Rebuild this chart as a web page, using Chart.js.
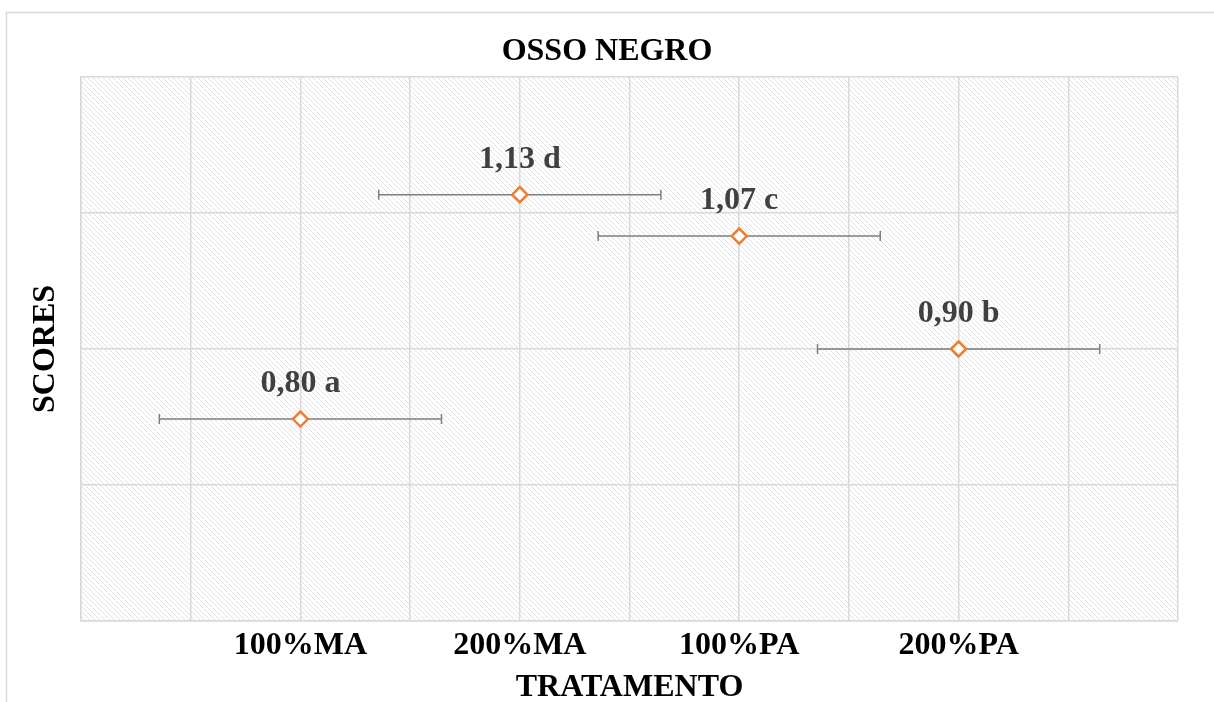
<!DOCTYPE html>
<html lang="pt">
<head>
    <meta charset="UTF-8">
    <title>Osso Negro</title>
    <script src="https://cdn.jsdelivr.net/npm/chart.js"></script>
    <style>
        body { margin: 0; background: #ffffff; }
        .chart-container { position: relative; width: 1214px; height: 702px; }
    </style>
</head>
<body>
    <div class="chart-container">
        <canvas id="scoreChart" width="1214" height="702"></canvas>
    </div>
    <script>
        // Data
        const categories = ['100%MA', '200%MA', '100%PA', '200%PA'];
        const xPositions = [1, 2, 3, 4];
        const scores = [0.797, 1.127, 1.066, 0.90];
        const errors = [0.643, 0.643, 0.643, 0.643];
        const pointLabels = ['0,80 a', '1,13 d', '1,07 c', '0,90 b'];

        const serif = "'Liberation Serif', 'DejaVu Serif', serif";
        const gridColor = '#d9d9d9';

        // diagonal hatch for the plot area
        function makeHatch() {
            const c = document.createElement('canvas');
            c.width = 5; c.height = 5;
            const g = c.getContext('2d');
            g.strokeStyle = '#e2e2e2';
            g.lineWidth = 1;
            g.beginPath();
            g.moveTo(-1, -1); g.lineTo(6, 6);
            g.moveTo(-1, 4); g.lineTo(1, 6);
            g.moveTo(4, -1); g.lineTo(6, 1);
            g.stroke();
            return c;
        }

        const backdrop = {
            id: 'backdrop',
            beforeDraw(chart) {
                const ctx = chart.ctx;
                const a = chart.chartArea;
                ctx.save();
                ctx.strokeStyle = gridColor;
                ctx.lineWidth = 1.5;
                ctx.strokeRect(6.5, 12.5, 1400, 1000);
                ctx.fillStyle = ctx.createPattern(makeHatch(), 'repeat');
                ctx.fillRect(a.left, a.top, a.right - a.left, a.bottom - a.top);
                ctx.restore();
            }
        };

        // horizontal error bars and value labels
        const errorBars = {
            id: 'errorBars',
            beforeDatasetsDraw(chart) {
                const ctx = chart.ctx;
                const xs = chart.scales.x, ys = chart.scales.y;
                ctx.save();
                ctx.strokeStyle = '#7f7f7f';
                ctx.lineWidth = 1.5;
                xPositions.forEach((x, i) => {
                    const y = ys.getPixelForValue(scores[i]);
                    const x0 = xs.getPixelForValue(x - errors[i]);
                    const x1 = xs.getPixelForValue(x + errors[i]);
                    ctx.beginPath();
                    ctx.moveTo(x0, y); ctx.lineTo(x1, y);
                    ctx.moveTo(x0, y - 5); ctx.lineTo(x0, y + 5);
                    ctx.moveTo(x1, y - 5); ctx.lineTo(x1, y + 5);
                    ctx.stroke();
                });
                ctx.restore();
            },
            afterDatasetsDraw(chart) {
                const ctx = chart.ctx;
                const xs = chart.scales.x, ys = chart.scales.y;
                ctx.save();
                ctx.fillStyle = '#404040';
                ctx.font = 'bold 32px ' + serif;
                ctx.textAlign = 'center';
                ctx.textBaseline = 'middle';
                xPositions.forEach((x, i) => {
                    ctx.fillText(pointLabels[i], xs.getPixelForValue(x), ys.getPixelForValue(scores[i]) - 35);
                });
                ctx.restore();
            }
        };

        new Chart(document.getElementById('scoreChart'), {
            type: 'scatter',
            data: {
                datasets: [{
                    label: 'Scores',
                    data: xPositions.map((x, i) => ({ x: x, y: scores[i] })),
                    pointStyle: 'rectRot',
                    pointRadius: 7.5,
                    pointBorderWidth: 2.5,
                    borderColor: '#ed7d31',
                    backgroundColor: '#ffffff',
                    pointHoverRadius: 7.5
                }]
            },
            options: {
                responsive: false,
                animation: false,
                layout: { padding: 0 },
                plugins: {
                    legend: { display: false },
                    tooltip: { enabled: false },
                    title: {
                        display: true,
                        text: 'OSSO NEGRO',
                        color: '#000000',
                        font: { family: serif, size: 32, weight: 'bold' },
                        padding: { top: 33, bottom: 5.6 }
                    }
                },
                scales: {
                    x: {
                        type: 'linear',
                        min: 0,
                        max: 5,
                        afterFit(scale) { scale.height = 81; },
                        ticks: {
                            stepSize: 0.5,
                            autoSkip: false,
                            maxRotation: 0,
                            color: '#000000',
                            padding: 6,
                            font: { family: serif, size: 32, weight: 'bold' },
                            callback: (v) => {
                                const i = xPositions.indexOf(v);
                                return i >= 0 ? categories[i] : '';
                            }
                        },
                        grid: { color: gridColor, lineWidth: 1.5, drawTicks: false },
                        border: { color: gridColor, width: 1.5 },
                        title: {
                            display: true,
                            text: 'TRATAMENTO',
                            color: '#000000',
                            font: { family: serif, size: 32, weight: 'bold' },
                            padding: { top: 0, bottom: -5 }
                        }
                    },
                    y: {
                        min: 0.5,
                        max: 1.3,
                        afterFit(scale) { scale.width = 81; },
                        ticks: { display: false, stepSize: 0.2 },
                        grid: { color: gridColor, lineWidth: 1.5, drawTicks: false },
                        border: { color: gridColor, width: 1.5 },
                        title: {
                            display: true,
                            text: 'SCORES',
                            color: '#000000',
                            font: { family: serif, size: 32, weight: 'bold' },
                            padding: { top: 27, bottom: 0 }
                        }
                    },
                    yRight: {
                        position: 'right',
                        min: 0.5,
                        max: 1.3,
                        afterFit(scale) { scale.width = 36; },
                        ticks: { display: false },
                        grid: { display: false, drawTicks: false },
                        border: { display: false }
                    }
                }
            },
            plugins: [backdrop, errorBars]
        });
    </script>
</body>
</html>
